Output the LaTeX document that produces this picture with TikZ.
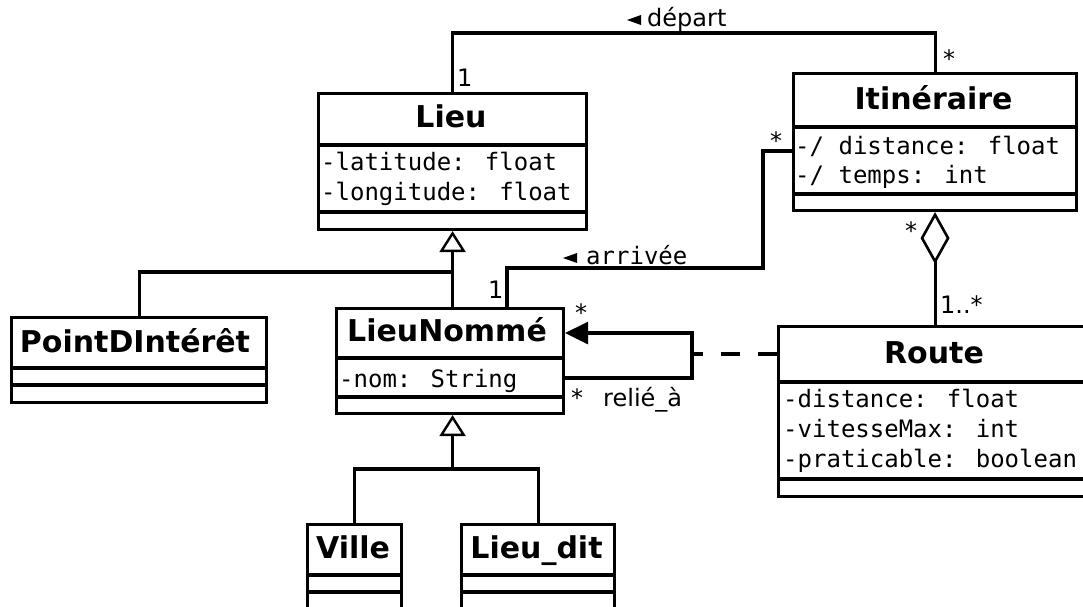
\documentclass[tikz,border=0pt]{standalone}
\usepackage{fontspec}
\setmainfont{DejaVu Sans}
\newfontfamily\umlmono{DejaVu Sans Mono}
\usetikzlibrary{arrows.meta}
\begin{document}
\begin{tikzpicture}[x=1pt,y=-1pt,
  ln/.style={line width=3.1pt},
  cls/.style={draw, line width=3.1pt, fill=white, inner sep=0pt, anchor=north west},
  ttl/.style={font=\fontsize{30}{36}\selectfont\bfseries, anchor=base, inner sep=0pt},
  attr/.style={font=\umlmono\fontsize{24}{28}\selectfont, anchor=base west, inner sep=0pt},
  lbl/.style={font=\fontsize{24}{28}\selectfont, anchor=base west, inner sep=0pt},
  mlbl/.style={font=\umlmono\fontsize{24}{28}\selectfont, anchor=base west, inner sep=0pt},
  gen/.style={-{Triangle[open, length=21pt, width=26pt, line width=2.4pt]}},
]
\useasboundingbox (0,0) rectangle (1083,607);
\clip (0,0) rectangle (1083,607);
\fill[white] (0,0) rectangle (1083,607);

% ---- classes ----
\node[cls, minimum width=268pt, minimum height=136pt] (lieu) at (317,92) {};
\draw[ln] (317,145) -- (585,145) (317,212) -- (585,212);
\node[ttl] (lieuT) at (451,128) {Lieu};
\node[attr] (lieuA1) at (321,170) {-latitude: float};
\node[attr] (lieuA2) at (321,200) {-longitude: float};

\node[cls, minimum width=283pt, minimum height=137pt] (itin) at (792,72) {};
\draw[ln] (792,127) -- (1075,127) (792,194) -- (1075,194);
\node[ttl] (itinT) at (933.5,110) {Itinéraire};
\node[attr] (itinA1) at (795,154) {-/ distance: float};
\node[attr] (itinA2) at (795,183) {-/ temps: int};

\node[cls, minimum width=255pt, minimum height=85pt] (ptint) at (10,316) {};
\draw[ln] (10,368) -- (265,368) (10,385) -- (265,385);
\node[ttl] (ptintT) at (135,352) {PointDIntérêt};

\node[cls, minimum width=227pt, minimum height=105pt] (lnom) at (335,307) {};
\draw[ln] (335,358) -- (562,358) (335,397) -- (562,397);
\node[ttl] (lnomT) at (447,341) {LieuNommé};
\node[attr] (lnomA1) at (339,387) {-nom: String};

\node[cls, minimum width=320pt, minimum height=170pt] (route) at (777,325) {};
\draw[ln] (777,382) -- (1097,382) (777,479) -- (1097,479);
\node[ttl] (routeT) at (934,363) {Route};
\node[attr] (routeA1) at (783,407) {-distance: float};
\node[attr] (routeA2) at (783,437) {-vitesseMax: int};
\node[attr] (routeA3) at (783,467) {-praticable: boolean};

\node[cls, minimum width=94pt, minimum height=86pt] (ville) at (306,523) {};
\draw[ln] (306,575) -- (400,575) (306,592) -- (400,592);
\node[ttl] (villeT) at (353,558) {Ville};

\node[cls, minimum width=153pt, minimum height=86pt] (ldit) at (460,523) {};
\draw[ln] (460,575) -- (613,575) (460,592) -- (613,592);
\node[ttl] (lditT) at (536.5,558) {Lieu\_dit};

% ---- connectors ----
% depart
\draw[ln] (lieu.north) -- (lieu.north |- 0,33) -| (itin.north);
% arrivee
\draw[ln] ([yshift=-79pt]itin.north west) -- (763,151) -- (763,268) -| ([xshift=172pt]lnom.north west);
% generalisation Lieu
\draw[ln, gen] (lieu.south |- lnom.north) -- (lieu.south);
\draw[ln] (ptint.north) |- (lieu.south |- 0,272);
% generalisation LieuNomme
\draw[ln, gen] (lieu.south |- 0,469) -- (lieu.south |- lnom.south);
\draw[ln] (ville.north) |- (ldit.north |- 0,469) -- (ldit.north);
% relie_a
\draw[ln, -{Triangle[length=23pt, width=22pt]}] ([yshift=-71pt]lnom.north east) -- (692,378) -- (692,333) -- ([yshift=-26pt]lnom.north east);
\coordinate (assoc) at (692,354);
\draw[ln, dash pattern=on 19pt off 18pt] (route.west |- assoc) -- (assoc);
% aggregation
\draw[ln, {Diamond[open, length=52pt, width=29pt, line width=2.6pt]}-] (itin.south) -- (itin.south |- route.north);

% ---- labels ----
\fill (627,20) -- (641,15) -- (641,25) -- cycle;
\node[lbl] (ldep) at (647,27) {départ};
\fill (563,258) -- (577,253) -- (577,263) -- cycle;
\node[mlbl] (larr) at (586,264) {arrivée};
\node[lbl] (m1) at (457,87) {1};
\node[lbl] (m2) at (943,68) {*};
\node[lbl] (m3) at (770,149) {*};
\node[lbl] (m4) at (905,239) {*};
\node[lbl] (m5) at (940,313) {1..*};
\node[lbl] (m6) at (488,298) {1};
\node[lbl] (m7) at (575,321) {*};
\node[lbl] (m8) at (571,406) {*};
\node[lbl] (lrel) at (603,406) {relié\_à};
\end{tikzpicture}
\end{document}
